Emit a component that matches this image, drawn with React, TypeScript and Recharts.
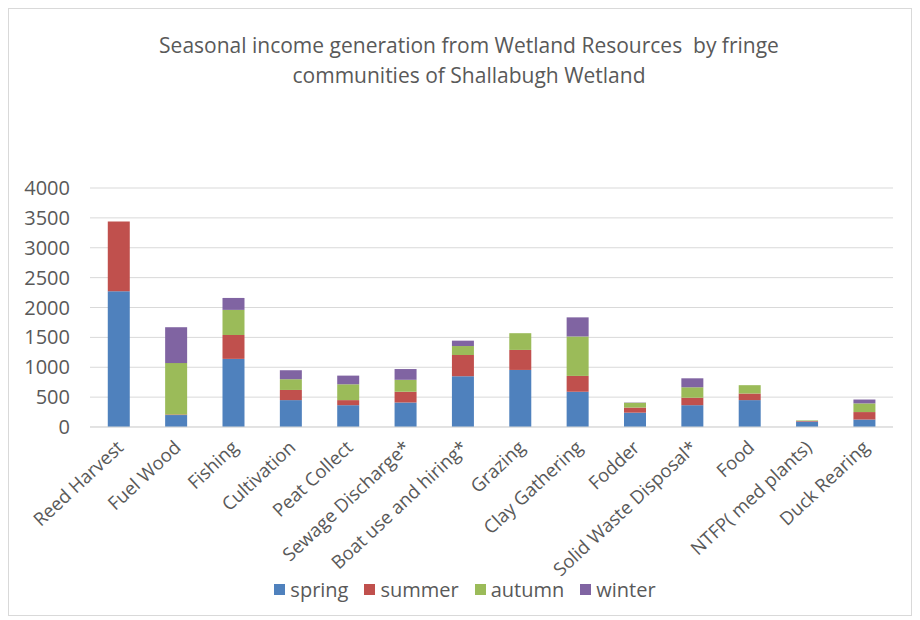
import { BarChart, Bar, XAxis, YAxis, CartesianGrid, Legend } from 'recharts';

const categories = [
  'Reed Harvest',
  'Fuel Wood',
  'Fishing',
  'Cultivation',
  'Peat Collect',
  'Sewage Discharge*',
  'Boat use and hiring*',
  'Grazing',
  'Clay Gathering',
  'Fodder',
  'Solid Waste Disposal*',
  'Food',
  'NTFP( med plants)',
  'Duck Rearing',
];

const spring = [2270, 200, 1140, 450, 365, 410, 850, 955, 590, 240, 365, 450, 90, 125];
const summer = [1170, 10, 400, 170, 85, 180, 355, 335, 265, 85, 125, 110, 10, 125];
const autumn = [0, 860, 420, 180, 265, 200, 150, 280, 660, 80, 175, 140, 10, 145];
const winter = [0, 600, 200, 150, 145, 180, 90, 0, 320, 5, 150, 0, 0, 65];

const yTicks = [0, 500, 1000, 1500, 2000, 2500, 3000, 3500, 4000];

const seasons = [
  { key: 'spring', color: '#4f81bd' },
  { key: 'summer', color: '#c0504d' },
  { key: 'autumn', color: '#9bbb59' },
  { key: 'winter', color: '#8064a2' },
];

const data = categories.map((name, i) => ({
  name,
  spring: spring[i],
  summer: summer[i],
  autumn: autumn[i],
  winter: winter[i],
}));

const FONT = '"Open Sans", sans-serif';
const TEXT = '#595959';

function AngledTick(props: any) {
  const { x, y, payload } = props;
  return (
    <g transform={`translate(${x + 6},${y + 14})`}>
      <text
        textAnchor="end"
        transform="rotate(-43)"
        fill={TEXT}
        fontSize={18.5}
        fontFamily={FONT}
      >
        {payload.value}
      </text>
    </g>
  );
}

function SeasonLegend() {
  return (
    <div
      style={{
        display: 'flex',
        justifyContent: 'center',
        gap: 16,
        fontSize: 20,
        fontFamily: FONT,
        color: TEXT,
        height: 24,
        alignItems: 'center',
        paddingLeft: 28,
      }}
    >
      {seasons.map((s) => (
        <span key={s.key} style={{ display: 'flex', alignItems: 'center' }}>
          <span
            style={{
              display: 'inline-block',
              width: 11,
              height: 11,
              background: s.color,
              marginRight: 5,
            }}
          />
          {s.key}
        </span>
      ))}
    </div>
  );
}

export default function App() {
  return (
    <div
      style={{
        position: 'relative',
        width: 904,
        height: 608,
        boxSizing: 'border-box',
        border: '1px solid #d9d9d9',
        background: '#fff',
        fontFamily: FONT,
      }}
    >
      <div
        style={{
          position: 'absolute',
          top: 21,
          left: 0,
          width: 920,
          textAlign: 'center',
          color: TEXT,
          fontSize: 21,
          lineHeight: '30px',
        }}
      >
        Seasonal income generation from Wetland Resources&nbsp; by fringe
        <br />
        communities of Shallabugh Wetland
      </div>
      <BarChart
        width={902}
        height={606}
        data={data}
        margin={{ top: 179, right: 18, left: 0, bottom: 14 }}
        barCategoryGap="31%"
      >
        <CartesianGrid vertical={false} stroke="#d9d9d9" />
        <XAxis
          dataKey="name"
          interval={0}
          height={150}
          tick={<AngledTick />}
          tickLine={false}
          axisLine={{ stroke: '#d9d9d9' }}
        />
        <YAxis
          width={81}
          domain={[0, 4000]}
          ticks={yTicks}
          tickSize={0}
          tickMargin={20}
          axisLine={false}
          tickLine={false}
          tick={{ fill: TEXT, fontSize: 20, fontFamily: FONT }}
        />
        <Legend content={<SeasonLegend />} />
        {seasons.map((s) => (
          <Bar key={s.key} dataKey={s.key} stackId="s" fill={s.color} isAnimationActive={false} />
        ))}
      </BarChart>
    </div>
  );
}
